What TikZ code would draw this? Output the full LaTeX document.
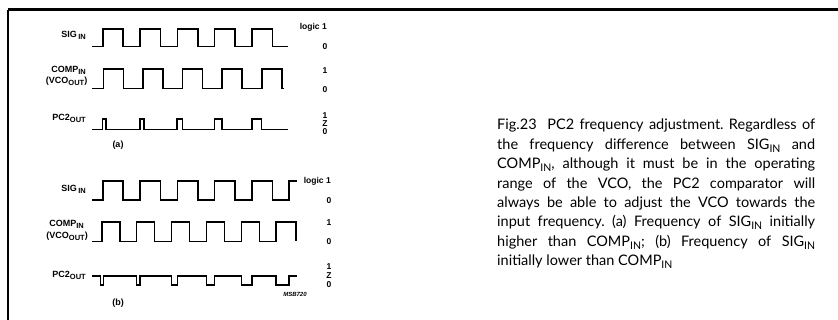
\documentclass[tikz,border=0pt]{standalone}
\usepackage{fontspec}
\setmainfont{Lato}
\newfontfamily\sigfont{Liberation Sans}
\newcommand{\lowsub}[1]{\raisebox{-0.45ex}{\fontsize{7.5}{7.5}\selectfont #1}}
\newcommand{\capsub}[1]{\raisebox{-0.4ex}{\fontsize{10.5}{10.5}\selectfont #1}}

\begin{document}
\begin{tikzpicture}[x=1pt, y=-1pt,
    wave/.style={line width=1.6pt, line join=miter},
    lbl/.style={font=\sigfont\bfseries\fontsize{9}{9}\selectfont, inner sep=0pt},
    lvl/.style={font=\sigfont\bfseries\fontsize{8.5}{8.5}\selectfont, inner sep=0pt}]
    \useasboundingbox (0,0) rectangle (838,320);

    % Frame
    \draw[line width=3pt] (7.5,10) -- (838,10);
    \draw[line width=1.4pt] (8,10) -- (8,320);

    % Waveforms (a)
    \draw[wave] (92,46.7) \foreach \r in {102.7,140,177.3,214.6,251.9}
        { -- (\r,46.7) -- (\r,29.3) -- ({\r+20.5},29.3) -- ({\r+20.5},46.7) } -- (288,46.7);
    \draw[wave] (92,88.5) \foreach \r in {103.3,142.9,182.5,222.1,261.7}
        { -- (\r,88.5) -- (\r,68.8) -- ({\r+20},68.8) -- ({\r+20},88.5) } -- (284,88.5);
    \draw[wave] (92,129.5) \foreach \a/\b in {102.5/106,140/144,177/182.5,214.5/222,252/261.5}
        { -- (\a,129.5) -- (\a,119) -- (\b,119) -- (\b,129.5) } -- (288,129.5);

    % Waveforms (b)
    \draw[wave] (92,200) \foreach \r in {102.7,140,177.3,214.6,251.9}
        { -- (\r,200) -- (\r,181) -- ({\r+20.5},181) -- ({\r+20.5},200) } -- (289.2,200) -- (289.2,181) -- (297,181);
    \draw[wave] (92,241.5) \foreach \r in {101.7,136.6,171.5,206.4,241.3}
        { -- (\r,241.5) -- (\r,222.3) -- ({\r+18},222.3) -- ({\r+18},241.5) } -- (276.2,241.5) -- (276.2,222.3) -- (296.2,222.3) -- (296.2,241.5);
    \draw[wave] (92,276) \foreach \a/\b in {100.5/103.3,136.6/140,171.5/177.3,206.4/214.6,241.3/251.9,276.2/289.2}
        { -- (\a,276) -- (\a,285) -- (\b,285) -- (\b,276) } -- (297,276);

    % Signal names (a)
    \node[lbl, anchor=east] (sigA) at (86,35) {SIG\,\lowsub{IN}};
    \node[lbl, anchor=east] (compA) at (86,70.5) {COMP\lowsub{IN}};
    \node[lbl, anchor=east] (vcoA) at (87.5,81.5) {(VCO\lowsub{OUT})};
    \node[lbl, anchor=east] (pcA) at (86,118.5) {PC2\lowsub{OUT}};

    % Logic levels (a)
    \node[lvl, anchor=east] (logicA) at (327,27.5) {logic 1};
    \node[lvl] (sigzeroA) at (325,47) {0};
    \node[lvl] (componeA) at (325,71) {1};
    \node[lvl] (compzeroA) at (325,90) {0};
    \node[lvl] (pconeA) at (325,115.5) {1};
    \node[lvl] (pczA) at (325,123.5) {Z};
    \node[lvl] (pczeroA) at (325,131.5) {0};
    \node[lbl] (capA) at (118,145) {(a)};

    % Signal names (b)
    \node[lbl, anchor=east] (sigB) at (86,189) {SIG\,\lowsub{IN}};
    \node[lbl, anchor=east] (compB) at (84,224) {COMP\lowsub{IN}};
    \node[lbl, anchor=east] (vcoB) at (88,236) {(VCO\lowsub{OUT})};
    \node[lbl, anchor=east] (pcB) at (86,275) {PC2\lowsub{OUT}};

    % Logic levels (b)
    \node[lvl, anchor=east] (logicB) at (331,181.5) {logic 1};
    \node[lvl] (sigzeroB) at (329,200.5) {0};
    \node[lvl] (componeB) at (329,223) {1};
    \node[lvl] (compzeroB) at (329,242) {0};
    \node[lvl] (pconeB) at (329,266.7) {1};
    \node[lvl] (pczB) at (329,275.8) {Z};
    \node[lvl] (pczeroB) at (329,284.8) {0};
    \node[lbl] (capB) at (118,303) {(b)};
    \node[font=\sigfont\bfseries\itshape\fontsize{6}{6}\selectfont, inner sep=0pt] (code) at (295,294) {MSB720};

    % Caption
    \node[anchor=north west, inner sep=0pt, text width=318pt, align=justify,
          font=\frenchspacing\fontsize{14.5}{19.4}\selectfont] (caption) at (497,119) {%
        Fig.23\ \ PC2 frequency adjustment. Regardless of\linebreak
        the frequency difference between SIG\capsub{IN} and\linebreak
        COMP\capsub{IN}, although it must be in the operating\linebreak
        range of the VCO, the PC2 comparator will\linebreak
        always be able to adjust the VCO towards the\linebreak
        input frequency. (a) Frequency of SIG\capsub{IN} initially\linebreak
        higher than COMP\capsub{IN}; (b) Frequency of SIG\capsub{IN}\linebreak
        initially lower than COMP\capsub{IN}};
\end{tikzpicture}
\end{document}
